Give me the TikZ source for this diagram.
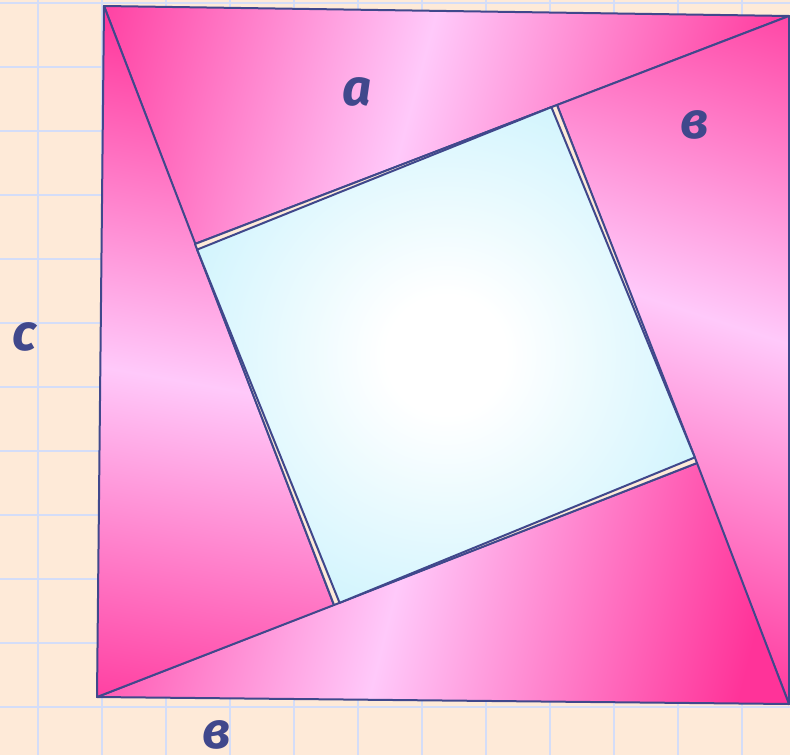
\documentclass[tikz,border=0pt]{standalone}
\usepackage{fontspec}
\setmainfont{Fira Sans}
\usepackage{tikz}
\usetikzlibrary{calc}
\definecolor{paperpeach}{RGB}{254,234,216}
\definecolor{gridblue}{RGB}{212,221,248}
\definecolor{inkblue}{RGB}{64,72,140}
\definecolor{pinkdeep}{RGB}{255,51,153}
\definecolor{pinklight}{RGB}{255,201,250}
\definecolor{glowcyan}{RGB}{204,243,253}
\pgfdeclareverticalshading{pinkband}{100bp}{%
  color(0bp)=(pinkdeep); color(32bp)=(pinkdeep); color(50bp)=(pinklight);
  color(68bp)=(pinkdeep); color(100bp)=(pinkdeep)}
\pgfdeclareradialshading{squareglow}{\pgfpoint{0bp}{0bp}}{%
  color(0bp)=(white); color(6bp)=(white);
  color(30bp)=(glowcyan); color(50bp)=(glowcyan)}
\tikzset{
  % --- Squared paper ---------------------------------------------------------
  gridline/.style={draw=gridblue, line width=2.5pt},
  % --- Pieces of the figure ---------------------------------------------------
  pinktri/.style={draw=inkblue, line width=2pt, line join=round},
  gapfill/.style={fill=paperpeach, draw=inkblue, line width=2pt, line join=round},
  glowsquare/.style={shading=squareglow, draw=inkblue, line width=2pt, line join=round},
  sidelabel/.style={
    inner sep=0pt, text=inkblue,
    font=\fontsize{51}{56}\selectfont\bfseries\itshape
  },
}

\begin{document}
\begin{tikzpicture}[x=1pt, y=-1pt]
    \useasboundingbox (0,0) rectangle (790,755);
    \fill[paperpeach] (0,0) rectangle (790,755);
    \foreach \gx in {38,102,...,742}
      \draw[gridline] (\gx,0) -- (\gx,755);
    \foreach \gy in {3,67,...,707}
      \draw[gridline] (0,\gy) -- (790,\gy);

    % outer corners and right-angle corners
    \coordinate (A) at (104,6);
    \coordinate (B) at (789,16);
    \coordinate (C) at (789,704);
    \coordinate (D) at (97,697);
    \coordinate (Q1) at (195,244);
    \coordinate (Q2) at (557,105);
    \coordinate (Q3) at (697,463);
    \coordinate (Q4) at (334,605);

    % the four triangles: light band at (cx,cy), tilted by ang
    \foreach \p/\q/\r/\cx/\cy/\ang in {A/B/Q1/421/70/75, B/C/Q2/700/315/-18,
                                       C/D/Q3/390/614/76, D/A/Q4/215/387/-10} {
      \begin{scope}
        \clip (\p) -- (\q) -- (\r) -- cycle;
        \shade[shading=pinkband, shading angle=\ang]
          ({\cx-500},{\cy-500}) rectangle ({\cx+500},{\cy+500});
      \end{scope}
      \draw[pinktri] (\p) -- (\q) -- (\r) -- cycle;
    }

    \filldraw[gapfill] (Q1) -- (Q2) -- (Q3) -- (Q4) -- cycle;
    \coordinate (S1) at ($(Q1)!6pt!(Q4)$);
    \coordinate (S2) at ($(Q2)!6pt!(Q1)$);
    \coordinate (S3) at ($(Q3)!6pt!(Q2)$);
    \coordinate (S4) at ($(Q4)!6pt!(Q3)$);
    \shadedraw[glowsquare] (S1) -- (S2) -- (S3) -- (S4) -- cycle;

    \node[sidelabel] (lbla) at (357,92) {a};
    \node[sidelabel] (lblvtop) at (695,125) {в};
    \node[sidelabel] (lblc) at (24,337) {c};
    \node[sidelabel] (lblvbot) at (217,735) {в};
\end{tikzpicture}
\end{document}
